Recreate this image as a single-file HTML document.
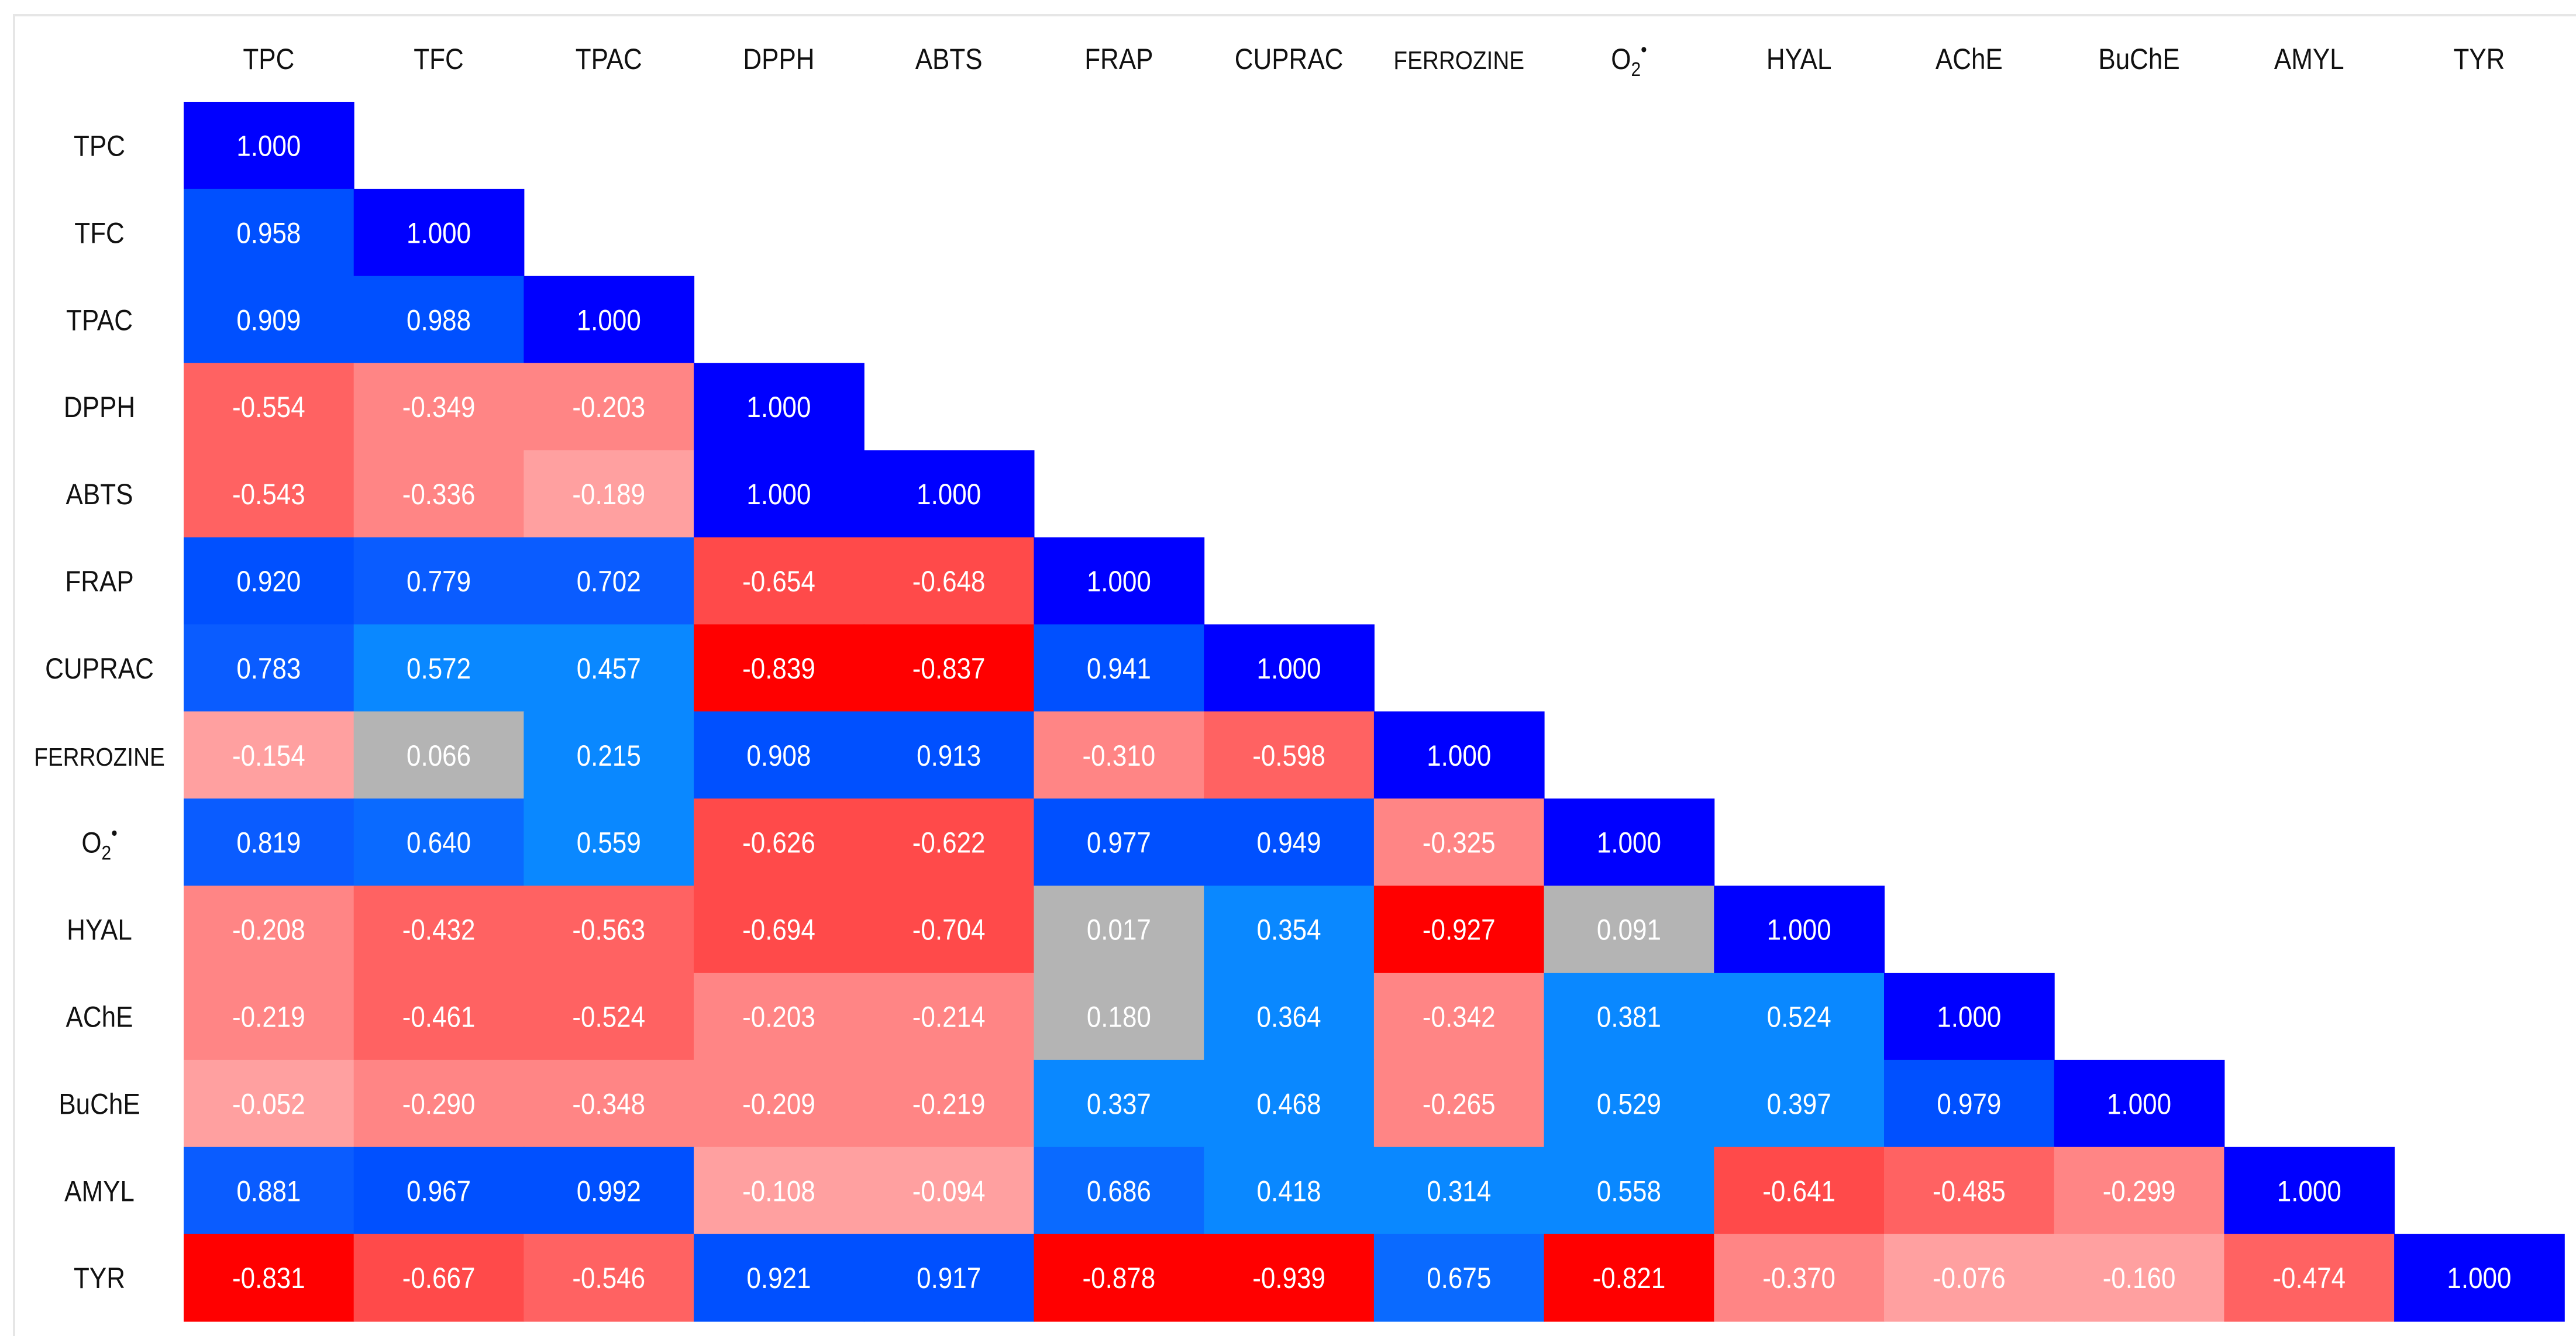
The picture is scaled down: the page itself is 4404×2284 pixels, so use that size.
<!DOCTYPE html>
<html><head><meta charset="utf-8"><style>
html,body{margin:0;padding:0;background:#fff;}
svg{display:block;font-family:"Liberation Sans",Arial,sans-serif;}
</style></head><body>
<svg id="chart" width="4404" height="2284" viewBox="0 0 4404 2284" xmlns="http://www.w3.org/2000/svg">
<rect x="24" y="26" width="4390" height="2290" fill="#fff" stroke="#e6e6e6" stroke-width="4"/>
<g id="cells"></g>
<g id="labels"></g>
</svg>
<script>
const labels = ["TPC","TFC","TPAC","DPPH","ABTS","FRAP","CUPRAC","FERROZINE","O2","HYAL","AChE","BuChE","AMYL","TYR"];
const row0 = [1.000];
const row1 = [0.958,1.000];
const row2 = [0.909,0.988,1.000];
const row3 = [-0.554,-0.349,-0.203,1.000];
const row4 = [-0.543,-0.336,-0.189,1.000,1.000];
const row5 = [0.920,0.779,0.702,-0.654,-0.648,1.000];
const row6 = [0.783,0.572,0.457,-0.839,-0.837,0.941,1.000];
const row7 = [-0.154,0.066,0.215,0.908,0.913,-0.310,-0.598,1.000];
const row8 = [0.819,0.640,0.559,-0.626,-0.622,0.977,0.949,-0.325,1.000];
const row9 = [-0.208,-0.432,-0.563,-0.694,-0.704,0.017,0.354,-0.927,0.091,1.000];
const row10 = [-0.219,-0.461,-0.524,-0.203,-0.214,0.180,0.364,-0.342,0.381,0.524,1.000];
const row11 = [-0.052,-0.290,-0.348,-0.209,-0.219,0.337,0.468,-0.265,0.529,0.397,0.979,1.000];
const row12 = [0.881,0.967,0.992,-0.108,-0.094,0.686,0.418,0.314,0.558,-0.641,-0.485,-0.299,1.000];
const row13 = [-0.831,-0.667,-0.546,0.921,0.917,-0.878,-0.939,0.675,-0.821,-0.370,-0.076,-0.160,-0.474,1.000];
const rows = [row0,row1,row2,row3,row4,row5,row6,row7,row8,row9,row10,row11,row12,row13];

const X0=314, Y0=174, CW=290.7, CH=148.9;
const xPos = j => X0 + j*CW;
const yPos = i => Y0 + i*CH;
function color(v){
  if(v>=0.995) return "#0000ff";
  if(v>=0.9) return "#0050ff";
  if(v>=0.7) return "#0a5cff";
  if(v>=0.6) return "#0a6aff";
  if(v>=0.2) return "#0a88ff";
  if(v>=0) return "#b4b4b4";
  if(v<=-0.8) return "#ff0000";
  if(v<=-0.6) return "#ff4a4a";
  if(v<=-0.4) return "#ff6262";
  if(v<=-0.2) return "#ff8585";
  return "#ffa0a0";
}
const NS="http://www.w3.org/2000/svg";
const cells=document.getElementById("cells");
const lab=document.getElementById("labels");
rows.forEach((r,i)=>{
  r.forEach((v,j)=>{
    const rc=document.createElementNS(NS,"rect");
    rc.setAttribute("x",xPos(j)); rc.setAttribute("y",yPos(i));
    rc.setAttribute("width",CW+1); rc.setAttribute("height",CH+1);
    rc.setAttribute("fill",color(v));
    
    
    cells.appendChild(rc);
    const t=document.createElementNS(NS,"text");
    t.setAttribute("transform",`translate(${xPos(j)+CW/2},${yPos(i)+CH/2+18}) scale(0.88,1)`);
    t.setAttribute("text-anchor","middle");
    t.setAttribute("font-size","50");
    t.setAttribute("fill","#fff");
    t.textContent=v.toFixed(3);
    
    
    cells.appendChild(t);
  });
});
function makeLabel(name,x,y,kind){
  const t=document.createElementNS(NS,"text");
  t.setAttribute("transform",`translate(${x},${y}) scale(0.88,1)`);
  t.setAttribute("text-anchor","middle");
  t.setAttribute("font-size", name==="FERROZINE"?"44":"50");
  t.setAttribute("fill","#111");
  if(name==="O2"){
    t.innerHTML='O<tspan font-size="34" dy="12">2</tspan><tspan font-size="34" dy="-34">•</tspan>';
  } else t.textContent=name;
  
  
  lab.appendChild(t);
}
labels.forEach((n,k)=>{
  makeLabel(n,xPos(k)+CW/2,118,"column-label");
  makeLabel(n,170,yPos(k)+CH/2+18,"row-label");
});
</script>
</body></html>
